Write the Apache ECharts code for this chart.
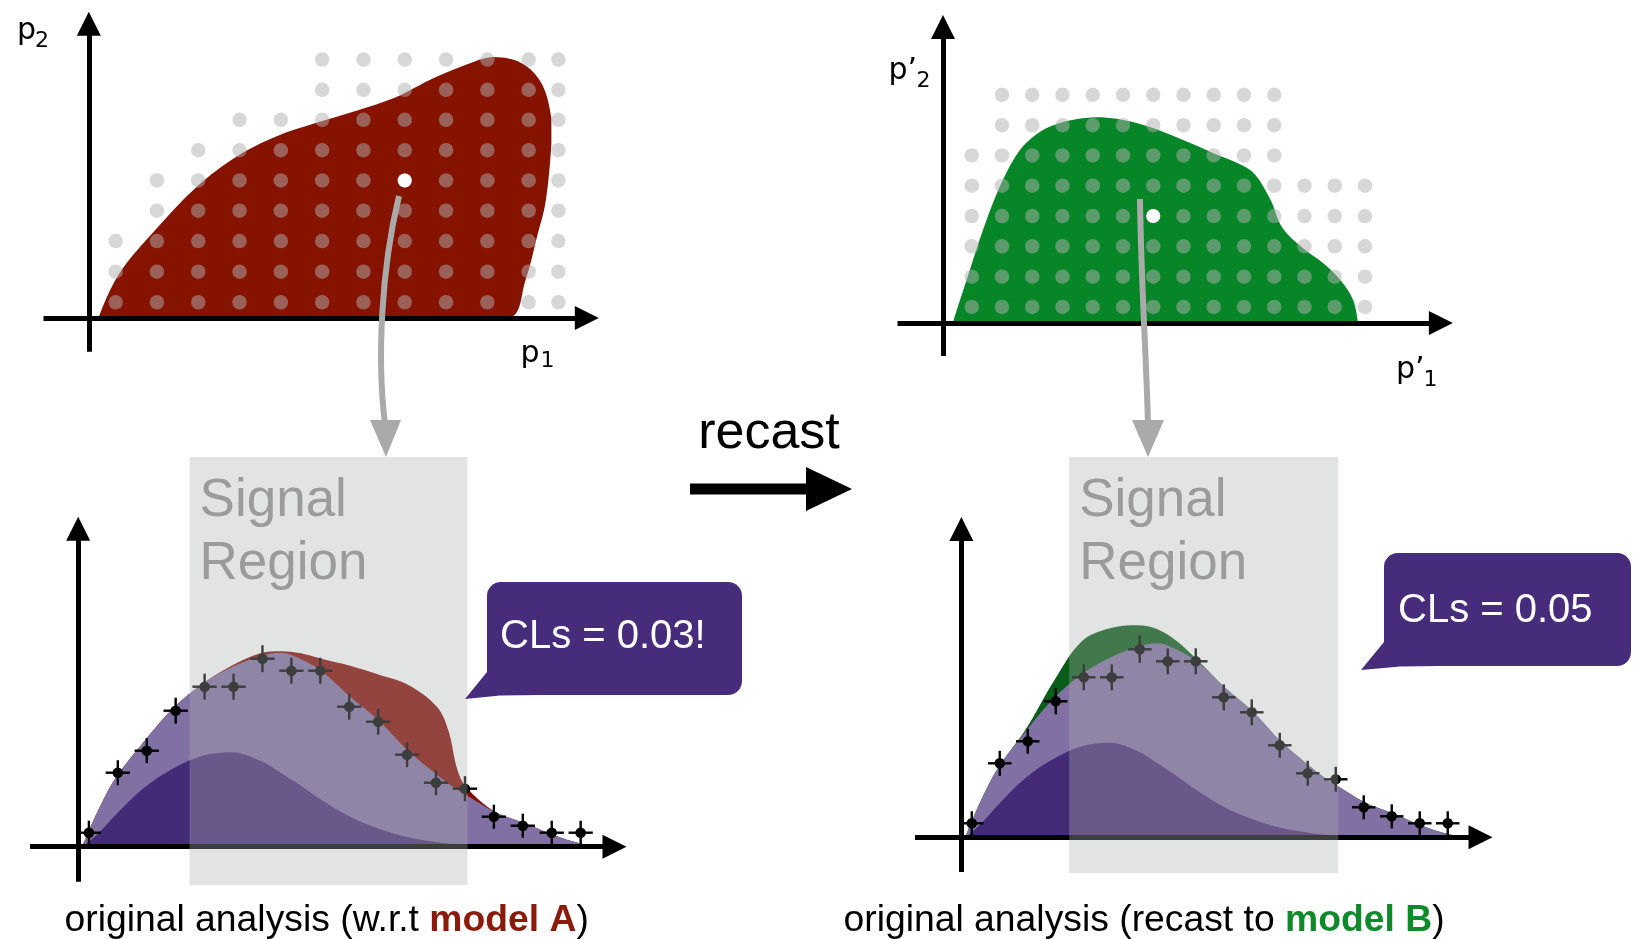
<!DOCTYPE html>
<html>
<head>
<meta charset="utf-8">
<title>Recasting an analysis</title>
<script src="https://cdn.jsdelivr.net/npm/echarts@6/dist/echarts.min.js"></script>
<style>
  html, body { margin: 0; padding: 0; background: #ffffff; }
  #chart { width: 1635px; height: 939px; }
</style>
</head>
<body>
<div id="chart"></div>
<script>
// ---------- model A: parameter scan in (p1, p2) ----------
const p1Scan = [0.65, 1.65, 2.65, 3.65, 4.65, 5.65, 6.65, 7.65, 8.65, 9.65, 10.65, 11.37];
const p2Scan = [0.52, 1.53, 2.54, 3.54, 4.54, 5.54, 6.54, 7.53, 8.53];
// first / last p1 index scanned on each p2 row (bottom row first)
const scanRangeA = [[0, 11], [0, 11], [0, 11], [1, 11], [1, 11], [2, 11], [3, 11], [5, 11], [5, 11]];
const benchmarkA = [7, 4];   // [p1 index, p2 index]
// excluded region of model A: boundary from the low-p1 end, over the top, back to the axis
const excludedA = [[0.24, 0], [0.72, 1.43], [1.68, 3.01], [2.63, 4.35], [3.59, 5.34], [4.55, 6.0],
  [5.51, 6.44], [6.46, 6.83], [7.42, 7.28], [7.9, 7.61], [8.38, 7.94], [9.33, 8.46], [9.81, 8.61],
  [10.48, 8.41], [10.96, 7.75], [11.2, 6.6], [11.2, 5.72], [11.06, 3.83], [10.86, 2.72],
  [10.58, 1.28], [10.15, 0]];

// ---------- model B: parameter scan in (p'1, p'2) ----------
const p1bScan = [0.95, 1.95, 2.95, 3.95, 4.95, 5.95, 6.95, 7.95, 8.95, 9.95, 10.95, 11.95, 12.95, 13.95];
const p2bScan = [0.53, 1.53, 2.53, 3.53, 4.53, 5.53, 6.53, 7.53];
const scanRangeB = [[0, 13], [0, 13], [0, 13], [0, 13], [0, 13], [0, 10], [1, 10], [1, 10]];
const benchmarkB = [6, 3];
const excludedB = [[0.33, 0], [0.78, 1.42], [1.44, 3.4], [2.09, 4.94], [2.74, 5.93], [3.65, 6.53],
  [5.09, 6.79], [6.4, 6.6], [7.7, 6.14], [9.0, 5.58], [9.8, 5.25], [10.3, 4.92], [10.83, 4.06],
  [11.22, 3.14], [11.87, 2.49], [12.6, 1.95], [13.16, 1.39], [13.56, 0.76], [13.72, 0]];

// ---------- analysis distribution (bin units, events) ----------
const binCenters = [0.37, 1.37, 2.37, 3.37, 4.37, 5.37, 6.37, 7.37, 8.37, 9.37, 10.37, 11.37, 12.37, 13.37, 14.37, 15.37, 16.37, 17.37];
const observed  = [1.4, 7.4, 9.6, 13.6, 16.0, 16.0, 18.8, 17.6, 17.6, 14.0, 12.5, 9.2, 6.4, 5.8, 3.0, 2.1, 1.4, 1.4];
const obsError  = [1.2, 1.25, 1.25, 1.3, 1.3, 1.3, 1.35, 1.3, 1.3, 1.3, 1.3, 1.25, 1.25, 1.25, 1.2, 1.2, 1.2, 1.2];
const shapeX    = [0.15, 0.65, 1.3, 2.3, 3.3, 4.3, 5.3, 6.3, 7.0, 7.7, 8.4, 9.4, 10.4, 11.4, 12.4, 12.8, 13.1, 13.4, 14.4, 15.4, 16.4, 17.4, 18.1];
const bkgDark   = [0, 1.2, 3.2, 5.95, 7.85, 9.1, 9.45, 8.6, 7.4, 6.1, 4.7, 3.0, 1.8, 0.95, 0.45, 0.3, 0.22, 0.15, 0.05, 0, 0, 0, 0];
const bkgTotal  = [0.1, 3.4, 6.9, 10.6, 13.9, 16.3, 17.95, 19.05, 19.4, 18.75, 17.6, 15.0, 12.6, 9.6, 7.2, 6.3, 5.7, 5.2, 3.5, 2.4, 1.2, 0.3, 0.05];
const bkgPlusA  = [0.1, 3.4, 6.9, 10.6, 13.9, 16.3, 18.1, 19.35, 19.55, 19.35, 18.8, 18.1, 17.2, 16.2, 14.0, 11.6, 7.8, 6.0, 3.5, 2.4, 1.2, 0.3, 0.05];
const bkgPlusB  = [0.1, 3.4, 6.9, 10.8, 15.6, 19.6, 20.9, 21.2, 20.8, 19.6, 17.8, 15.0, 12.6, 9.6, 7.2, 6.3, 5.7, 5.2, 3.5, 2.4, 1.2, 0.3, 0.05];
const signalRegion = [3.85, 13.46];
const clsA = '0.03!';
const clsB = '0.05';

// ---------- styles ----------
const RED = '#861200';
const GREEN = '#078628';
const SIG_A = '#870c02';
const SIG_B = '#0a5d18';
const BKG_LIGHT = '#8070a4';
const BKG_DARK = '#452a77';
const CALLOUT = '#462c7a';
const SCAN_DOT = 'rgba(176,176,176,0.5)';
const ARROW_GREY = '#aaaaaa';
const SANS = '"Liberation Sans", Arial, Helvetica, sans-serif';
const LABEL_FONT = '"DejaVu Sans", sans-serif';
const BIN_HALF = 0.42;
const BOX_TOP = 457;

const chart = echarts.init(document.getElementById('chart'));

const gridBoxes = [
  { left: 43.5, top: 23.7, width: 543.3, height: 328 },   // model A scan
  { left: 897.5, top: 27, width: 543.4, height: 329 },    // model B scan
  { left: 30, top: 528.7, width: 584.5, height: 353 },    // original analysis
  { left: 915, top: 529, width: 565.5, height: 343 }      // recast analysis
];
const xRanges = [[-1.097, 12.058], [-1.504, 16.46], [-1.666, 18.54], [-1.657, 18.54]];
const yRanges = [[-1.112, 9.713], [-1.089, 9.769], [-3.5, 31.8], [-3.47, 30.83]];

function axisLine() {
  return {
    show: true, onZero: true,
    symbol: ['none', 'triangle'], symbolSize: [24, 24],
    lineStyle: { color: '#000', width: 5, cap: 'butt' }
  };
}
function makeAxis(i, range) {
  return {
    type: 'value', gridIndex: i, min: range[0], max: range[1], z: 5,
    axisLine: axisLine(), axisTick: { show: false }, axisLabel: { show: false },
    splitLine: { show: false }, axisPointer: { show: false }
  };
}

function scanPoints(xs, ys, ranges) {
  const out = [];
  ranges.forEach((r, j) => { for (let i = r[0]; i <= r[1]; i++) out.push([xs[i], ys[j]]); });
  return out;
}

function regionSeries(grid, outline, color) {
  return {
    type: 'custom', xAxisIndex: grid, yAxisIndex: grid, z: 2, silent: true,
    data: [[0, 0]],
    renderItem(params, api) {
      const pts = outline.map(p => api.coord(p));
      return {
        type: 'polygon',
        shape: { points: pts, smooth: 0.35, smoothConstraint: [pts[0], pts[0]] },
        style: { fill: color }
      };
    }
  };
}

function dotSeries(grid, data, color, size, z) {
  return {
    type: 'scatter', xAxisIndex: grid, yAxisIndex: grid, data, z, silent: true,
    symbol: 'circle', symbolSize: size, itemStyle: { color, opacity: 1 }
  };
}

function areaSeries(grid, values, color) {
  return {
    type: 'line', xAxisIndex: grid, yAxisIndex: grid, z: 2, silent: true,
    data: shapeX.map((x, i) => [x, values[i]]),
    smooth: 0.35, symbol: 'none',
    lineStyle: { width: 0, opacity: 0 },
    areaStyle: { color, opacity: 1 }
  };
}

function errorBarSeries(grid) {
  return {
    type: 'custom', xAxisIndex: grid, yAxisIndex: grid, z: 4, silent: true,
    data: binCenters.map((x, i) => [x, observed[i], obsError[i]]),
    renderItem(params, api) {
      const x = api.value(0), y = api.value(1), e = api.value(2);
      const c = api.coord([x, y]);
      const t = api.coord([x, y + e]), b = api.coord([x, y - e]);
      const l = api.coord([x - BIN_HALF, y]), r = api.coord([x + BIN_HALF, y]);
      const st = { stroke: '#000', lineWidth: 2.4 };
      return {
        type: 'group', children: [
          { type: 'line', shape: { x1: c[0], y1: t[1], x2: c[0], y2: b[1] }, style: st },
          { type: 'line', shape: { x1: l[0], y1: c[1], x2: r[0], y2: c[1] }, style: st },
          { type: 'circle', shape: { cx: c[0], cy: c[1], r: 5.3 }, style: { fill: '#000' } }
        ]
      };
    }
  };
}

function signalRegionSeries(grid, bottomPx) {
  return {
    type: 'custom', xAxisIndex: grid, yAxisIndex: grid, z: 8, silent: true,
    data: [signalRegion],
    renderItem(params, api) {
      const a = api.coord([api.value(0), 0]), b = api.coord([api.value(1), 0]);
      return {
        type: 'group', children: [
          { type: 'rect', shape: { x: a[0], y: BOX_TOP, width: b[0] - a[0], height: bottomPx - BOX_TOP },
            style: { fill: 'rgba(171,175,175,0.35)' } },
          { type: 'text', style: {
              text: 'Signal\nRegion', x: a[0] + 10, y: 469.5, font: '53px ' + SANS,
              fill: '#9b9b9b', lineHeight: 63,
              textAlign: 'left', textVerticalAlign: 'top', align: 'left', verticalAlign: 'top' } }
        ]
      };
    }
  };
}

// text placed by its alphabetic baseline
function label(text, x, baseline, size, family, fill, align) {
  return {
    type: 'text', z: 30, silent: true,
    style: {
      text, x, y: baseline - 0.34 * size, font: size + 'px ' + family, fill,
      textAlign: align || 'left', align: align || 'left',
      textVerticalAlign: 'middle', verticalAlign: 'middle'
    }
  };
}

function caption(plain, model, color, x) {
  const size = 37.3;
  const base = { fontSize: size, fontFamily: SANS, fill: '#000', color: '#000' };
  return {
    type: 'text', z: 30, silent: true,
    style: {
      text: '{n|' + plain + '}{m|' + model + '}{n|)}',
      x, y: 933 - 0.34 * size, font: size + 'px ' + SANS,
      textAlign: 'left', align: 'left', textVerticalAlign: 'middle', verticalAlign: 'middle',
      rich: {
        n: base,
        m: Object.assign({}, base, { fontWeight: 'bold', fill: color, color })
      }
    }
  };
}

const graphics = [
  // parameter labels
  label('p', 17, 41.7, 30, LABEL_FONT, '#000'),
  label('2', 35, 48.5, 22, LABEL_FONT, '#000'),
  label('p', 520.5, 364.5, 30, LABEL_FONT, '#000'),
  label('1', 540.5, 368.5, 22, LABEL_FONT, '#000'),
  label('p\u2019', 888.5, 81.7, 30, LABEL_FONT, '#000'),
  label('2', 916.5, 88.5, 22, LABEL_FONT, '#000'),
  label('p\u2019', 1396, 380, 30, LABEL_FONT, '#000'),
  label('1', 1423.5, 387.5, 22, LABEL_FONT, '#000'),

  // arrows from the benchmark points down to the signal regions
  { type: 'bezierCurve', z: 20, silent: true,
    shape: { x1: 399, y1: 196, cpx1: 381, cpy1: 270, cpx2: 377, cpy2: 360, x2: 385, y2: 424 },
    style: { stroke: ARROW_GREY, lineWidth: 6, fill: null } },
  { type: 'polygon', z: 20, silent: true, shape: { points: [[370, 420], [401, 420], [386, 457]] },
    style: { fill: ARROW_GREY } },
  { type: 'bezierCurve', z: 20, silent: true,
    shape: { x1: 1140, y1: 199, cpx1: 1141, cpy1: 280, cpx2: 1146, cpy2: 350, x2: 1148, y2: 424 },
    style: { stroke: ARROW_GREY, lineWidth: 6, fill: null } },
  { type: 'polygon', z: 20, silent: true, shape: { points: [[1132, 420], [1164, 420], [1148, 457]] },
    style: { fill: ARROW_GREY } },

  // recast arrow
  label('recast', 769, 451, 52, SANS, '#000', 'center'),
  { type: 'rect', z: 20, silent: true, shape: { x: 690, y: 483.5, width: 120, height: 11 }, style: { fill: '#000' } },
  { type: 'polygon', z: 20, silent: true, shape: { points: [[806, 467], [852, 489], [806, 511]] }, style: { fill: '#000' } },

  // CLs callouts
  { type: 'rect', z: 20, silent: true, shape: { x: 487, y: 582, width: 255, height: 113, r: 14 }, style: { fill: CALLOUT } },
  { type: 'polygon', z: 20, silent: true,
    shape: { points: [[487, 640], [487, 672], [465, 699], [500, 695.5], [540, 695], [540, 640]] },
    style: { fill: CALLOUT } },
  label('CLs = ' + clsA, 500, 650.5, 40, SANS, '#ffffff'),
  { type: 'rect', z: 20, silent: true, shape: { x: 1384, y: 553, width: 247, height: 113, r: 14 }, style: { fill: CALLOUT } },
  { type: 'polygon', z: 20, silent: true,
    shape: { points: [[1384, 620], [1384, 642], [1361, 670], [1400, 666.5], [1440, 666], [1440, 620]] },
    style: { fill: CALLOUT } },
  label('CLs = ' + clsB, 1398, 624.5, 40, SANS, '#ffffff'),

  // captions
  caption('original analysis (w.r.t ', 'model A', '#8b1a0a', 64.5),
  caption('original analysis (recast to ', 'model B', '#0f8a2a', 843.5)
];

chart.setOption({
  backgroundColor: '#ffffff',
  animation: false,
  tooltip: { show: false },
  grid: gridBoxes.map(g => Object.assign({ outerBoundsMode: 'none', containLabel: false, show: false }, g)),
  xAxis: xRanges.map((r, i) => makeAxis(i, r)),
  yAxis: yRanges.map((r, i) => makeAxis(i, r)),
  series: [
    regionSeries(0, excludedA, RED),
    dotSeries(0, scanPoints(p1Scan, p2Scan, scanRangeA), SCAN_DOT, 14.5, 3),
    dotSeries(0, [[p1Scan[benchmarkA[0]], p2Scan[benchmarkA[1]]]], '#ffffff', 14, 4),

    regionSeries(1, excludedB, GREEN),
    dotSeries(1, scanPoints(p1bScan, p2bScan, scanRangeB), SCAN_DOT, 14.5, 3),
    dotSeries(1, [[p1bScan[benchmarkB[0]], p2bScan[benchmarkB[1]]]], '#ffffff', 14, 4),

    areaSeries(2, bkgPlusA, SIG_A),
    areaSeries(2, bkgTotal, BKG_LIGHT),
    areaSeries(2, bkgDark, BKG_DARK),
    errorBarSeries(2),
    signalRegionSeries(2, 885),

    areaSeries(3, bkgPlusB, SIG_B),
    areaSeries(3, bkgTotal, BKG_LIGHT),
    areaSeries(3, bkgDark, BKG_DARK),
    errorBarSeries(3),
    signalRegionSeries(3, 873)
  ],
  graphic: { elements: graphics }
});
</script>
</body>
</html>
